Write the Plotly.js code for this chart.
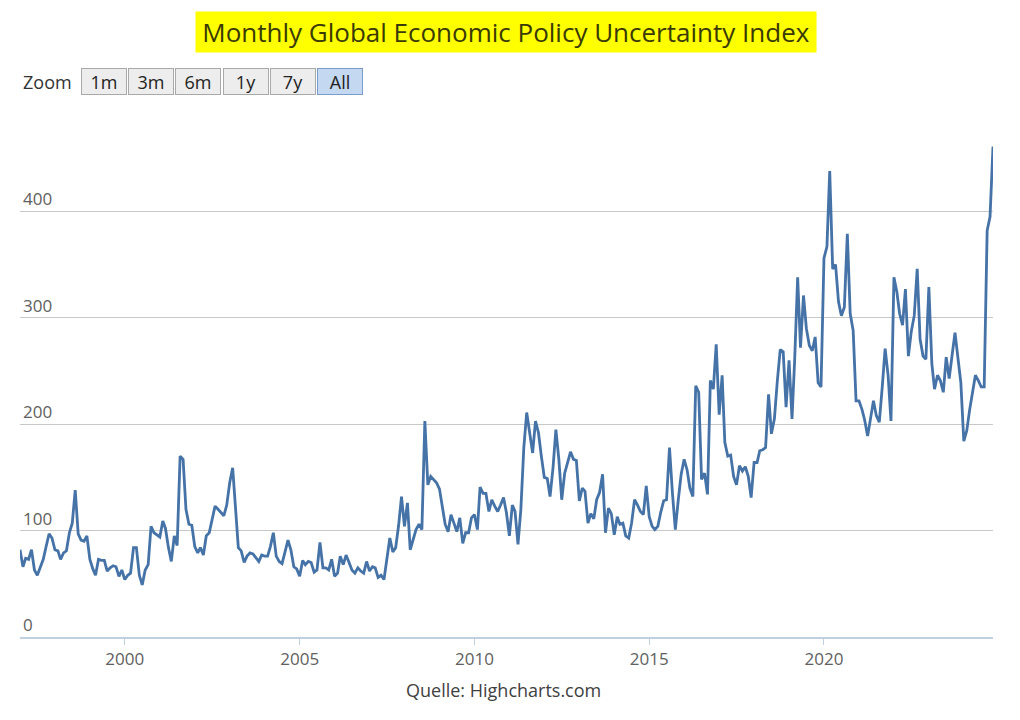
<!DOCTYPE html>
<html><head><meta charset="utf-8">
<script src="https://cdn.plot.ly/plotly-3.0.1.min.js"></script>
<style>html,body{margin:0;padding:0;background:#fff;}#chart{width:1020px;height:720px;}</style>
</head><body><div id="chart"></div>
<script>
// Monthly Global EPU index (Jan 1997 onwards)
const startYear = 1997;
const epu1997_2001 = [82,66,74,73,82,63,58,66,73,85,97,93, 82,81,73,79,81,98,107,138,97,91,90,95,
  73,64,58,73,72,72,62,65,67,66,57,63, 54,58,60,84,84,58,49,63,68,104,98,96, 94,109,102,84,71,95,86,170,167,120,106,105];
const epu2002_2006 = [85,79,84,77,95,98,110,123,120,117,114,124, 145,159,126,84,81,70,76,79,78,74,71,77,
  76,76,85,98,76,71,69,80,91,82,66,64, 57,72,68,71,70,61,63,89,65,65,63,73, 57,60,76,68,77,70,63,60,65,62,60,71];
const epu2007_2011 = [62,66,65,56,58,54,76,93,80,84,105,132, 104,126,82,92,101,106,101,203,143,151,148,145,
  139,120,106,99,115,107,99,112,88,98,98,112, 115,101,141,135,135,118,129,123,118,124,131,117, 95,124,118,87,120,178,211,192,173,203,192,170];
const epu2012_2016 = [150,149,132,159,195,167,129,154,164,174,167,166, 128,140,137,107,116,111,129,136,153,98,121,116,
  96,113,106,107,95,93,107,129,124,118,115,142, 113,104,101,104,117,128,129,178,135,101,129,153, 167,157,140,132,236,230,148,154,134,241,233,275];
const epu2017_2021 = [209,246,183,170,171,151,143,161,156,160,151,131, 164,164,175,176,178,228,191,205,241,270,268,216,
  260,205,261,338,272,321,290,274,269,282,239,235, 356,367,438,346,350,315,302,310,379,304,288,222, 222,214,204,189,205,222,208,202,235,271,246,203];
const epu2022_2024 = [338,324,304,293,327,264,287,302,346,280,264,261, 329,257,233,246,241,230,263,243,265,286,262,239,
  184,194,213,230,246,241,235,235,382,395,461];
const yTickVals = [0,100,200,300,400,500];
const yTickText = ['0','100','200','300','400',''];
const zoomButtons = ['1m','3m','6m','1y','7y','All'];

const values = [].concat(epu1997_2001, epu2002_2006, epu2007_2011, epu2012_2016, epu2017_2021, epu2022_2024);
const dates = values.map((v,i)=> (startYear+Math.floor(i/12)) + '-' + String(i%12+1).padStart(2,'0') + '-01');

// pixel layout helpers (plot area edges)
const L=20, R=993, T=105, B=637;
const px = p => (p-L)/(R-L);
const py = p => (B-p)/(B-T);
const FONT = 'Open Sans, Noto Sans, sans-serif';

const annotations = [
  {text:'Monthly Global Economic Policy Uncertainty Index', xref:'paper', yref:'paper', x:px(506), y:py(32),
   xanchor:'center', yanchor:'middle', showarrow:false, bgcolor:'#ffff00', borderpad:0, width:620, height:40,
   font:{family:FONT, size:26, color:'#3a3a05'}},
  {text:'Zoom', xref:'paper', yref:'paper', x:px(21), y:py(82), xanchor:'left', yanchor:'middle', showarrow:false,
   font:{family:FONT, size:18, color:'#333333'}},
  {text:'Quelle: Highcharts.com', xref:'paper', yref:'paper', x:px(503), y:py(690), xanchor:'center', yanchor:'middle',
   showarrow:false, font:{family:FONT, size:18, color:'#404040'}}
];
zoomButtons.forEach((b,i)=>{
  const active = (b==='All');
  annotations.push({text:b, xref:'paper', yref:'paper', x:px(104+i*47.2), y:py(81.5), xanchor:'center', yanchor:'middle',
    showarrow:false, width:44, height:25, borderpad:0, borderwidth:1,
    bordercolor: active ? '#7a9ccc' : '#a9a9a9', bgcolor: active ? '#c4d8f2' : '#ededed',
    font:{family:FONT, size:18, color:'#222222'}});
});

const trace = {x:dates, y:values, type:'scatter', mode:'lines', line:{color:'#4572a7', width:2.8}, hoverinfo:'x+y'};

const layout = {
  width:1020, height:720, paper_bgcolor:'#ffffff', plot_bgcolor:'#ffffff',
  margin:{l:L, r:1020-R, t:T, b:720-B},
  showlegend:false,
  xaxis:{type:'date', range:[dates[0], dates[dates.length-1]], tick0:'2000-01-01', dtick:'M60', tickformat:'%Y',
    ticks:'outside', ticklen:6, tickcolor:'#c0d0e0', tickwidth:1, showline:true, linecolor:'#c0d0e0', linewidth:2,
    showgrid:false, zeroline:false, tickfont:{family:FONT, size:17, color:'#606060'}, fixedrange:true},
  yaxis:{range:[0,500], tickvals:yTickVals, ticktext:yTickText, ticklabelposition:'inside top', showgrid:true,
    gridcolor:'#c8c8c8', gridwidth:1, zeroline:false, showline:false, ticks:'',
    tickfont:{family:FONT, size:17, color:'#606060'}, fixedrange:true},
  annotations: annotations
};
Plotly.newPlot('chart', [trace], layout, {displayModeBar:false, staticPlot:true});
</script></body></html>
